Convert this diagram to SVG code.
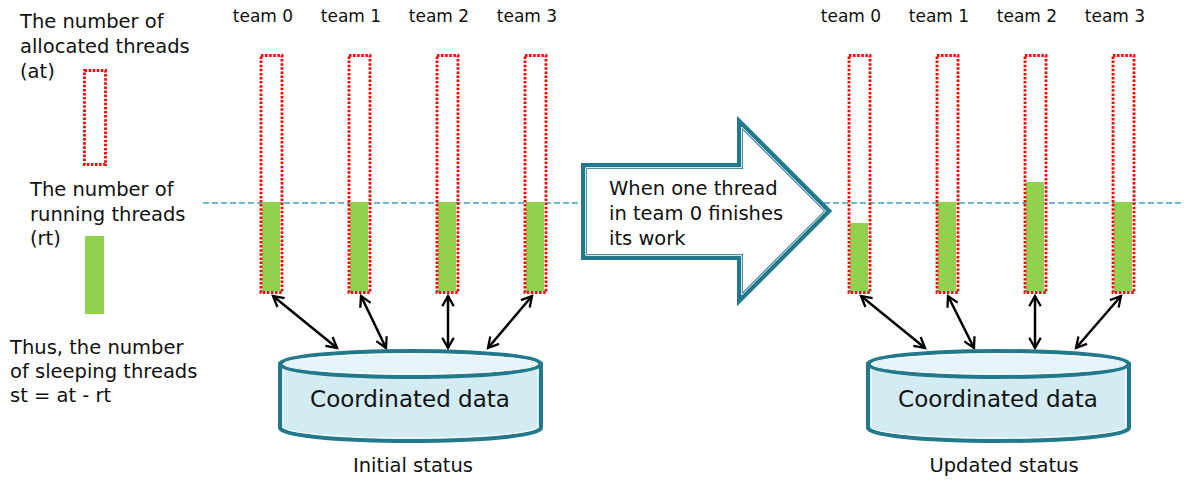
<svg xmlns="http://www.w3.org/2000/svg" width="1186" height="482" viewBox="0 0 1186 482">
<defs>
<style>
text{font-family:"DejaVu Sans",sans-serif;fill:#111}
.lbl{font-size:19.5px}
.team{font-size:17px;text-anchor:middle}
.alloc{fill:none;stroke:#ff0000;stroke-width:2.8;stroke-dasharray:2.5 1.6}
.run{fill:#92d050}
.conn{stroke:#000;stroke-width:2.5;fill:none;marker-start:url(#ah);marker-end:url(#ah)}
.cylb{fill:#d3ebf3;stroke:#23798c;stroke-width:4}
.cylt{fill:#e5f4f9;stroke:#23798c;stroke-width:4}
.wl{fill:none;stroke:#fff;stroke-width:1}
.db{font-size:23px;text-anchor:middle}
.cap{font-size:19.5px;text-anchor:middle}
</style>
<marker id="ah" viewBox="0 0 12 12" refX="10" refY="6" markerWidth="5.5" markerHeight="5.5" orient="auto-start-reverse" markerUnits="strokeWidth">
<path d="M1,1 L10,6 L1,11" fill="none" stroke="#000" stroke-width="2"/>
</marker>
</defs>
<rect width="1186" height="482" fill="#fff"/>

<g id="legend">
<text class="lbl" x="20" y="28">The number of</text>
<text class="lbl" x="20" y="53">allocated threads</text>
<text class="lbl" x="20" y="78">(at)</text>
<rect class="alloc" x="84.5" y="70.5" width="21" height="94"/>
<text class="lbl" x="30" y="196">The number of</text>
<text class="lbl" x="30" y="221">running threads</text>
<text class="lbl" x="30" y="245">(rt)</text>
<rect class="run" x="85" y="236" width="19" height="78"/>
<text class="lbl" x="10" y="354">Thus, the number</text>
<text class="lbl" x="10" y="378">of sleeping threads</text>
<text class="lbl" x="10" y="402">st = at - rt</text>
</g>

<line id="level" x1="203" y1="203" x2="1184" y2="203" stroke="#3aa6c6" stroke-width="1.3" stroke-dasharray="6 3"/>

<g id="left-teams">
<g id="l-team0"><text class="team" x="263" y="22">team 0</text><rect class="run" x="262" y="202" width="18" height="89"/><rect class="alloc" x="261" y="55.5" width="21" height="237"/></g>
<g id="l-team1"><text class="team" x="351" y="22">team 1</text><rect class="run" x="350" y="202" width="18" height="89"/><rect class="alloc" x="349" y="55.5" width="21" height="237"/></g>
<g id="l-team2"><text class="team" x="439" y="22">team 2</text><rect class="run" x="438" y="202" width="18" height="89"/><rect class="alloc" x="437" y="55.5" width="21" height="237"/></g>
<g id="l-team3"><text class="team" x="527" y="22">team 3</text><rect class="run" x="526" y="202" width="18" height="89"/><rect class="alloc" x="525" y="55.5" width="21" height="237"/></g>
</g>

<g id="right-teams">
<g id="r-team0"><text class="team" x="851" y="22">team 0</text><rect class="run" x="850" y="223" width="18" height="68"/><rect class="alloc" x="849" y="55.5" width="21" height="237"/></g>
<g id="r-team1"><text class="team" x="939" y="22">team 1</text><rect class="run" x="938" y="202" width="18" height="89"/><rect class="alloc" x="937" y="55.5" width="21" height="237"/></g>
<g id="r-team2"><text class="team" x="1027" y="22">team 2</text><rect class="run" x="1026" y="182" width="18" height="109"/><rect class="alloc" x="1025" y="55.5" width="21" height="237"/></g>
<g id="r-team3"><text class="team" x="1115" y="22">team 3</text><rect class="run" x="1114" y="202" width="18" height="89"/><rect class="alloc" x="1113" y="55.5" width="21" height="237"/></g>
</g>

<g id="connectors">
<line class="conn" x1="273" y1="296" x2="337" y2="348"/>
<line class="conn" x1="361" y1="296" x2="386" y2="348"/>
<line class="conn" x1="448" y1="296" x2="448" y2="348"/>
<line class="conn" x1="532" y1="296" x2="488" y2="348"/>
<line class="conn" x1="861" y1="296" x2="925" y2="348"/>
<line class="conn" x1="948" y1="296" x2="974" y2="348"/>
<line class="conn" x1="1035" y1="296" x2="1035" y2="348"/>
<line class="conn" x1="1121" y1="296" x2="1076" y2="348"/>
</g>

<g id="db-left">
<path class="cylb" d="M280,364 V428 A130.5,13 0 0 0 541,428 V364 Z"/>
<path class="wl" d="M283.5,368 V427 A127,11 0 0 0 537.5,427 V368"/>
<ellipse class="cylt" cx="410.5" cy="364" rx="130.5" ry="13"/>
<ellipse class="wl" cx="410.5" cy="364" rx="127" ry="10"/>
<text class="db" x="410" y="407">Coordinated data</text>
<text class="cap" x="413" y="472">Initial status</text>
</g>

<g id="db-right">
<path class="cylb" d="M868,364 V428 A130.5,13 0 0 0 1129,428 V364 Z"/>
<path class="wl" d="M871.5,368 V427 A127,11 0 0 0 1125.5,427 V368"/>
<ellipse class="cylt" cx="998.5" cy="364" rx="130.5" ry="13"/>
<ellipse class="wl" cx="998.5" cy="364" rx="127" ry="10"/>
<text class="db" x="998" y="407">Coordinated data</text>
<text class="cap" x="1004" y="472">Updated status</text>
</g>

<g id="transition">
<path d="M584,166 H740 V123 L828,211 L740,299 V257 H584 Z" fill="#fff" stroke="#23798c" stroke-width="6" stroke-linejoin="miter"/>
<path d="M585.7,167.7 H741.7 V127 L825.6,211 L741.7,295 V255.3 H585.7 Z" fill="none" stroke="#fff" stroke-width="1"/>
<text class="lbl" x="609" y="195">When one thread</text>
<text class="lbl" x="609" y="220">in team 0 finishes</text>
<text class="lbl" x="609" y="245">its work</text>
</g>
</svg>
